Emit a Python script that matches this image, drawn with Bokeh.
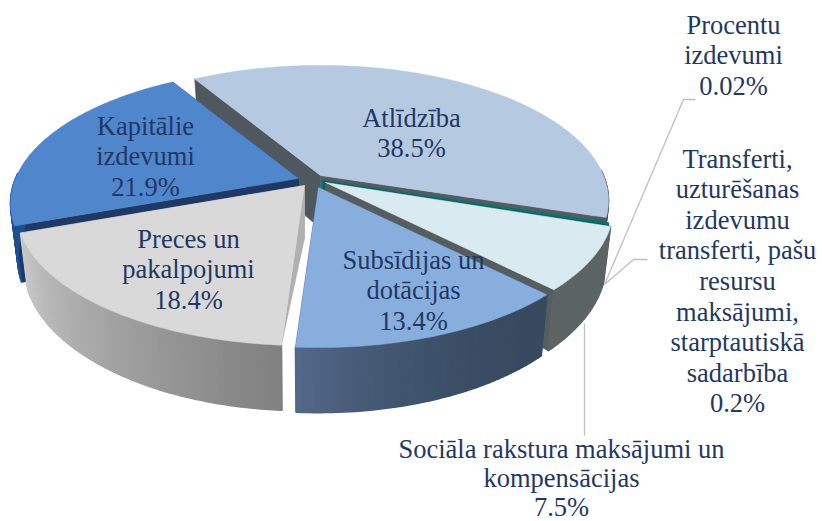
import math
from bokeh.plotting import figure
from bokeh.embed import file_html
from bokeh.resources import INLINE
from bokeh.core.properties import value

# ---- data ----
categories = ["Atlīdzība", "Transferti", "Procentu izdevumi", "Sociāla rakstura maksājumi",
              "Subsīdijas un dotācijas", "Preces un pakalpojumi", "Kapitālie izdevumi"]
shares = [38.5, 0.2, 0.02, 7.5, 13.4, 18.4, 21.9]
label_texts = [
    ["Atlīdzība", "38.5%"],
    ["Transferti,", "uzturēšanas", "izdevumu", "transferti, pašu", "resursu", "maksājumi,",
     "starptautiskā", "sadarbība", "0.2%"],
    ["Procentu", "izdevumi", "0.02%"],
    ["Sociāla rakstura maksājumi un", "kompensācijas", "7.5%"],
    ["Subsīdijas un", "dotācijas", "13.4%"],
    ["Preces un", "pakalpojumi", "18.4%"],
    ["Kapitālie", "izdevumi", "21.9%"],
]

# ---- layout and style ----
apex = [(320, 175), (322, 180), (323, 181), (325, 182), (318, 187), (304, 185), (298, 178)]
top_col = ["#b5c9e1", "#00796f", "#0b5f6b", "#d9eaf0", "#88aede", "#d9d9d9", "#4f86cc"]
wall_l = ["#50585f", "#00796f", "#0b5f6b", "#5d6464", "#54688a", "#c8c8c8", "#1f4f8f"]
wall_r = ["#50585f", "#00796f", "#0b5f6b", "#5d6464", "#374a60", "#808080", "#1f4f8f"]
radial = [("#50585f", "#555b60"), ("#00796f", "#00796f"), ("#0b5f6b", "#0b5f6b"), ("#5d6464", "#565d60"),
          ("#33445e", "#33445e"), ("#b0b0b0", "#b0b0b0"), ("#1f3864", "#1f3864")]
label_pos = [(411, 117), (737, 158), (733, 24), (561, 448), (413, 259), (188, 238), (145, 125)]
line_gap = [30.6, 30.6, 30.6, 29.0, 30.6, 30.6, 30.6]
TEXT = "#1f3864"
START = -31.0
R, F, K, H = 283.0, 0.461, 0.185, 53.0
SHRINK = 0.975
TAPERED_WALL = 5


def rim(a, deg):
    t = math.radians(deg)
    u, v = math.sin(t), math.cos(t)
    s = 1 / (1 + K * v)
    return a[0] + R * u * s, a[1] - R * F * v * s, s


def low(a, deg):
    x, y, s = rim(a, deg)
    return a[0] + (x - a[0]) * SHRINK, y + H * s


def hex2(c):
    return [int(c[i:i + 2], 16) for i in (1, 3, 5)]


def mix(c0, c1, f):
    a, b = hex2(c0), hex2(c1)
    return "#%02x%02x%02x" % tuple(round(a[i] + (b[i] - a[i]) * f) for i in range(3))


p = figure(width=822, height=521, x_range=(0, 822), y_range=(521, 0),
           output_backend="svg", toolbar_location=None, min_border=0)
p.axis.visible = False
p.grid.visible = False
p.outline_line_color = None
p.background_fill_color = "#ffffff"

total = sum(shares)
angles = []
cur = START
for v in shares:
    angles.append((cur, cur + v / total * 360))
    cur += v / total * 360

# back to front
order = [0, 6, 1, 2, 3, 5, 4]
for i in order:
    a = apex[i]
    t0, t1 = angles[i]
    # radial walls
    for which, (deg, col) in enumerate(zip((t0, t1), radial[i])):
        x, y, s = rim(a, deg)
        xb, yb = low(a, deg)
        if i == TAPERED_WALL and which == 0:
            p.patch([a[0], x, a[0]], [a[1], y, a[1] + H], fill_color=col, line_color=col, line_width=0.5)
        else:
            p.patch([a[0], x, xb, a[0]], [a[1], y, yb, a[1] + H], fill_color=col, line_color=col, line_width=0.5)
    # outer wall as shaded strips
    n = max(2, int((t1 - t0) / 1.0))
    degs = [t0 + (t1 - t0) * k / n for k in range(n + 1)]
    lo, hi = max(t0, 88), min(t1, 272)
    if hi > lo:
        xs, ys, cs = [], [], []
        for d0, d1 in zip(degs[:-1], degs[1:]):
            if d1 < 88 or d0 > 272:
                continue
            x0, y0, _ = rim(a, d0)
            x1, y1, _ = rim(a, d1)
            xb0, yb0 = low(a, d0)
            xb1, yb1 = low(a, d1)
            xs.append([x0, x1, xb1, xb0])
            ys.append([y0, y1, yb1, yb0])
            f = ((d0 + d1) / 2 - lo) / (hi - lo)
            f = max(0.0, min(1.0, f))
            cs.append(mix(wall_r[i], wall_l[i], f ** 2.2 if i == 4 else f))
        p.patches(xs, ys, fill_color=cs, line_color=cs, line_width=1.6)
    # top face
    pts = [rim(a, d) for d in degs]
    p.patch([a[0]] + [q[0] for q in pts], [a[1]] + [q[1] for q in pts],
            fill_color=top_col[i], line_color=top_col[i], line_width=0.5)

# leader lines
lead = "#bfbfbf"
p.line([604, 683, 695], [284, 99, 99], line_color=lead, line_width=1.3)
p.line([604, 633, 647], [284, 259, 259], line_color=lead, line_width=1.3)
p.line([584, 584], [323, 435], line_color=lead, line_width=1.3)

# labels
for lines, (cx, y0), gap in zip(label_texts, label_pos, line_gap):
    p.text([cx] * len(lines), [y0 + k * gap for k in range(len(lines))], text=lines,
           text_font=value("Liberation Serif"), text_font_size="26.5px", text_color=TEXT,
           text_align="center", text_baseline="middle")

open("out.html", "w").write(file_html(p, INLINE))
